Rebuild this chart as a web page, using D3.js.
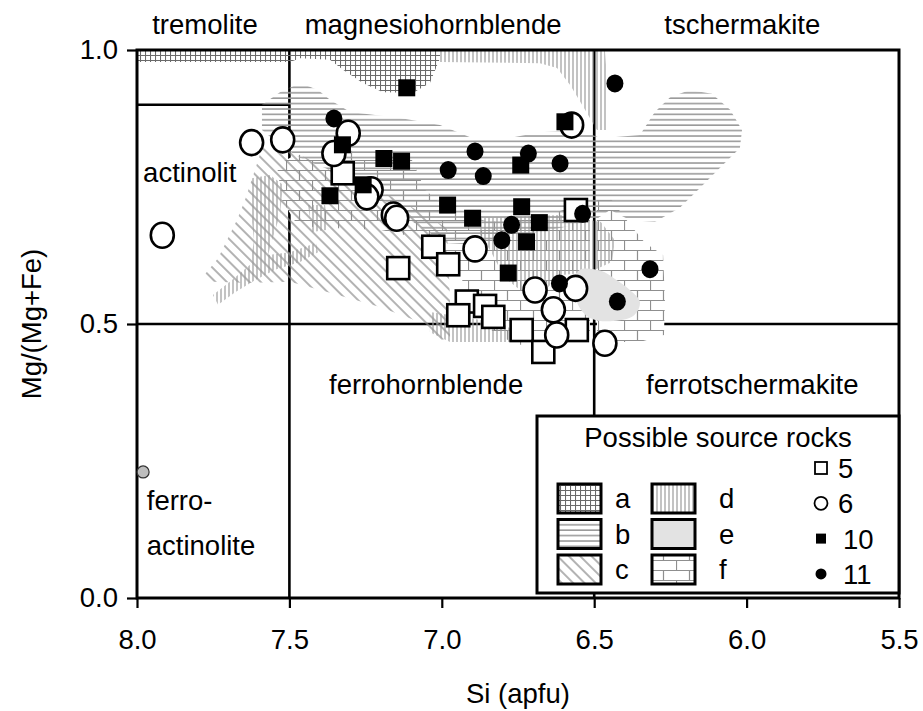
<!DOCTYPE html>
<html><head><meta charset="utf-8">
<script src="https://cdn.jsdelivr.net/npm/d3@7"></script>
<style>body{margin:0;background:#fff} svg text{font-family:"Liberation Sans",Arial,Helvetica,sans-serif;fill:#000}</style>
</head><body><svg id="c" width="923" height="711"></svg>
<script>
// ---------- data ----------
const xTicks = [8.0, 7.5, 7.0, 6.5, 6.0, 5.5];
const yTicks = [0.0, 0.5, 1.0];
const fieldLabels = [
  {t:"tremolite", si:7.95, mg:1.029},
  {t:"magnesiohornblende", si:7.45, mg:1.029},
  {t:"tschermakite", si:6.27, mg:1.029},
  {t:"actinolit", si:7.98, mg:0.76},
  {t:"ferrohornblende", si:7.37, mg:0.373},
  {t:"ferrotschermakite", si:6.33, mg:0.373},
  {t:"ferro-", si:7.968, mg:0.16},
  {t:"actinolite", si:7.968, mg:0.078}
];
// classification boundaries [Si1,Mg1,Si2,Mg2]
const boundaries = [[7.5,0,7.5,1],[6.5,0,6.5,1],[8.0,0.5,5.5,0.5],[8.0,0.9,7.5,0.9]];

// possible source rock fields (Si, Mg#)
const fieldA = [[[8.000,1.000],[7.006,1.000],[7.006,0.985],[7.039,0.940],[7.094,0.922],[7.193,0.923],[7.259,0.940],[7.324,0.964],[7.367,0.982],[7.465,0.985],[7.498,0.978],[8.000,0.978]]];
const fieldB = [[[7.590,0.900],[7.531,0.923],[7.465,0.940],[7.406,0.927],[7.367,0.909],[7.301,0.887],[7.137,0.876],[7.006,0.863],[6.907,0.841],[6.809,0.836],[6.678,0.850],[6.547,0.854],[6.478,0.839],[6.350,0.845],[6.301,0.887],[6.251,0.914],[6.186,0.927],[6.114,0.920],[6.054,0.891],[6.015,0.854],[6.022,0.821],[6.087,0.785],[6.153,0.748],[6.219,0.712],[6.301,0.686],[6.383,0.690],[6.448,0.708],[6.497,0.690],[6.612,0.675],[6.743,0.662],[6.875,0.644],[6.990,0.648],[7.104,0.690],[7.236,0.745],[7.367,0.781],[7.465,0.803],[7.531,0.827],[7.590,0.854]]];
const fieldC = [[[7.590,0.821],[7.498,0.818],[7.367,0.781],[7.137,0.726],[6.983,0.675],[6.973,0.544],[6.973,0.474],[7.006,0.471],[7.088,0.507],[7.203,0.531],[7.367,0.557],[7.498,0.577],[7.629,0.575],[7.751,0.577],[7.777,0.591],[7.734,0.620],[7.672,0.690],[7.646,0.726],[7.613,0.781]]];
const fieldD = [
  [[7.006,1.0],[6.465,1.0],[6.455,0.927],[6.458,0.854],[6.491,0.854],[6.530,0.891],[6.579,0.936],[6.622,0.967],[6.678,0.976],[7.006,0.978]],
  [[7.623,0.766],[7.564,0.772],[7.521,0.754],[7.531,0.699],[7.557,0.653],[7.570,0.626],[7.498,0.631],[7.413,0.648],[7.406,0.631],[7.465,0.613],[7.547,0.599],[7.613,0.580],[7.678,0.558],[7.734,0.535],[7.751,0.553],[7.695,0.577],[7.629,0.608],[7.616,0.653],[7.629,0.717]],
  [[7.439,0.717],[7.383,0.717],[7.373,0.672],[7.426,0.668]],
  [[6.875,0.693],[6.612,0.699],[6.478,0.686],[6.432,0.653],[6.442,0.613],[6.514,0.595],[6.612,0.589],[6.661,0.562],[6.743,0.562],[6.793,0.584],[6.842,0.635],[6.881,0.668]],
  [[7.039,0.522],[6.907,0.511],[6.793,0.498],[6.743,0.480],[6.760,0.467],[6.973,0.467],[7.039,0.485]]
];
const fieldE = [[[6.563,0.575],[6.547,0.599],[6.478,0.597],[6.432,0.582],[6.383,0.562],[6.350,0.540],[6.369,0.516],[6.448,0.505],[6.514,0.511],[6.553,0.535]]];
const fieldF = [
  [[7.541,0.790],[7.482,0.808],[7.301,0.816],[7.104,0.807],[7.055,0.745],[6.973,0.704],[6.842,0.686],[6.678,0.693],[6.514,0.726],[6.514,0.480],[6.612,0.460],[6.743,0.462],[6.825,0.480],[6.907,0.544],[6.957,0.613],[7.039,0.653],[7.203,0.672],[7.367,0.675],[7.472,0.679],[7.524,0.726]],
  [[6.491,0.739],[6.442,0.726],[6.389,0.686],[6.333,0.648],[6.274,0.626],[6.268,0.544],[6.271,0.480],[6.350,0.467],[6.491,0.467]]
];

// sample series (Si apfu, Mg/(Mg+Fe))
const series5 = [[7.325,0.775],[7.028,0.641],[6.979,0.609],[7.143,0.602],[6.560,0.708],[6.918,0.541],[6.858,0.533],[6.946,0.516],[6.831,0.513],[6.738,0.489],[6.557,0.489],[6.667,0.449]];
const series6 = [[7.624,0.831],[7.522,0.836],[7.307,0.848],[7.354,0.811],[7.232,0.745],[7.246,0.732],[7.159,0.699],[7.148,0.693],[7.917,0.662],[6.574,0.863],[6.891,0.637],[6.694,0.562],[6.561,0.565],[6.634,0.526],[6.623,0.480],[6.465,0.465]];
const series10 = [[7.115,0.931],[7.326,0.827],[7.190,0.802],[7.132,0.797],[7.258,0.754],[7.367,0.734],[6.596,0.869],[6.741,0.790],[6.981,0.717],[6.899,0.693],[6.738,0.714],[6.680,0.685],[6.722,0.650],[6.782,0.593]];
const series11 = [[7.354,0.875],[6.432,0.939],[6.891,0.815],[6.979,0.781],[6.864,0.770],[6.716,0.811],[6.612,0.793],[6.538,0.701],[6.771,0.681],[6.803,0.653],[6.317,0.600],[6.424,0.541],[6.614,0.574]];
const seriesGray = [[7.98,0.23]];

const legendTitle = "Possible source rocks";
const legendFields = ["a","b","c","d","e","f"];
const legendSeries = ["5","6","10","11"];

// ---------- drawing ----------
const svg = d3.select("#c");
const x = d3.scaleLinear().domain([8.0,5.5]).range([137,899]);
const y = d3.scaleLinear().domain([0,1]).range([598,50]);
const FS = 27.5;

const defs = svg.append("defs");
function pattern(id,w,h,d,color,sw,transform,bg){
  const p = defs.append("pattern").attr("id",id).attr("patternUnits","userSpaceOnUse")
    .attr("width",w).attr("height",h);
  if(transform) p.attr("patternTransform",transform);
  if(bg) p.append("rect").attr("width",w).attr("height",h).attr("fill",bg);
  p.append("path").attr("d",d).attr("stroke",color).attr("stroke-width",sw).attr("fill","none");
}
pattern("pa",5,5,"M0,0.5H5M0.5,0V5","#6a6a6a",1.1);
pattern("pb",5.4,5.4,"M0,1H5.4","#9a9a9a",1.6);
pattern("pc",8,8,"M1,0V8","#8a8a8a",1.3,"rotate(-45)");
pattern("pd",4,4,"M1,0V4","#9a9a9a",1.2);
pattern("pf",26,20,"M0,0.5H26M0,10.5H26M0.5,0V10M13.5,10V20","#8f8f8f",1.2,null,"#fff");

const pline = d3.line().x(d=>x(d[0])).y(d=>y(d[1])).curve(d3.curveLinearClosed);
const smooth = d3.line().x(d=>x(d[0])).y(d=>y(d[1])).curve(d3.curveCatmullRomClosed);

// boundaries
svg.append("g").selectAll("line").data(boundaries).join("line")
  .attr("x1",d=>x(d[0])).attr("y1",d=>y(d[1])).attr("x2",d=>x(d[2])).attr("y2",d=>y(d[3]))
  .attr("stroke","#000").attr("stroke-width",2.6);

const fields = svg.append("g");
fields.selectAll(".f").data(fieldF).join("path").attr("d",pline).attr("fill","url(#pf)");
fields.selectAll(".c").data(fieldC).join("path").attr("d",pline).attr("fill","url(#pc)");
fields.selectAll(".b").data(fieldB).join("path").attr("d",pline).attr("fill","url(#pb)");
fields.selectAll(".d").data(fieldD).join("path").attr("d",pline).attr("fill","url(#pd)");
fields.selectAll(".a").data(fieldA).join("path").attr("d",pline).attr("fill","url(#pa)");
fields.selectAll(".e").data(fieldE).join("path").attr("d",smooth).attr("fill","#e3e3e3");

// frame
svg.append("rect").attr("x",x(8)).attr("y",y(1)).attr("width",x(5.5)-x(8)).attr("height",y(0)-y(1))
  .attr("fill","none").attr("stroke","#000").attr("stroke-width",3);

// axes
const ax = svg.append("g").attr("transform",`translate(0,${y(0)})`)
  .call(d3.axisBottom(x).tickValues(xTicks).tickSize(10).tickPadding(21).tickFormat(d3.format(".1f")));
const ay = svg.append("g").attr("transform",`translate(${x(8)},0)`)
  .call(d3.axisLeft(y).tickValues(yTicks).tickSize(10).tickPadding(9).tickFormat(d3.format(".1f")));
[ax,ay].forEach(a=>{
  a.select(".domain").remove();
  a.selectAll(".tick line").attr("stroke","#000").attr("stroke-width",2.2);
  a.selectAll(".tick text").attr("font-size",FS).attr("font-family","Liberation Sans, Arial, sans-serif").attr("fill","#000");
});
svg.append("text").attr("x",(x(8)+x(5.5))/2).attr("y",703).attr("text-anchor","middle").attr("font-size",FS).text("Si (apfu)");
svg.append("text").attr("transform",`translate(41,${(y(0)+y(1))/2}) rotate(-90)`).attr("text-anchor","middle").attr("font-size",FS).text("Mg/(Mg+Fe)");

// field labels
svg.append("g").selectAll("text").data(fieldLabels).join("text")
  .attr("x",d=>x(d.si)).attr("y",d=>y(d.mg)).attr("font-size",FS).text(d=>d.t);

// markers
const m = svg.append("g");
m.selectAll(".s5").data(series5).join("rect")
  .attr("x",d=>x(d[0])-11).attr("y",d=>y(d[1])-11).attr("width",22).attr("height",22)
  .attr("fill","#fff").attr("stroke","#000").attr("stroke-width",2.6);
m.selectAll(".s6").data(series6).join("ellipse")
  .attr("cx",d=>x(d[0])).attr("cy",d=>y(d[1])).attr("rx",11.5).attr("ry",12.5)
  .attr("fill","#fff").attr("stroke","#000").attr("stroke-width",2.6);
m.selectAll(".s10").data(series10).join("rect")
  .attr("x",d=>x(d[0])-8.5).attr("y",d=>y(d[1])-8.5).attr("width",17).attr("height",17).attr("fill","#000");
m.selectAll(".s11").data(series11).join("ellipse")
  .attr("cx",d=>x(d[0])).attr("cy",d=>y(d[1])).attr("rx",8.5).attr("ry",9).attr("fill","#000");
m.selectAll(".sg").data(seriesGray).join("circle")
  .attr("cx",d=>x(d[0])).attr("cy",d=>y(d[1])).attr("r",6).attr("fill","#bdbdbd").attr("stroke","#333").attr("stroke-width",1.2);

// legend
const L = svg.append("g");
L.append("rect").attr("x",537).attr("y",416).attr("width",362).attr("height",177)
  .attr("fill","#fff").attr("stroke","#000").attr("stroke-width",3);
L.append("text").attr("x",718).attr("y",447).attr("text-anchor","middle").attr("font-size",FS).text(legendTitle);
const fillOf = {a:"url(#pa)",b:"url(#pb)",c:"url(#pc)",d:"url(#pd)",e:"#e3e3e3",f:"url(#pf)"};
legendFields.forEach((k,i)=>{
  const col = Math.floor(i/3), row = i%3;
  const sx = col===0?558:652, sy = 484+row*35.5;
  L.append("rect").attr("x",sx).attr("y",sy).attr("width",43).attr("height",29)
    .attr("fill",fillOf[k]).attr("stroke","#000").attr("stroke-width",3);
  L.append("text").attr("x",col===0?615:719).attr("y",sy+24).attr("font-size",FS).text(k);
});
legendSeries.forEach((k,i)=>{
  const cy = 468+i*35.3, cx = 821;
  if(i===0) L.append("rect").attr("x",cx-6).attr("y",cy-6).attr("width",12).attr("height",12).attr("fill","#fff").attr("stroke","#000").attr("stroke-width",1.8);
  if(i===1) L.append("circle").attr("cx",cx).attr("cy",cy).attr("r",6.5).attr("fill","#fff").attr("stroke","#000").attr("stroke-width",1.8);
  if(i===2) L.append("rect").attr("x",cx-5).attr("y",cy-5).attr("width",10).attr("height",10).attr("fill","#000");
  if(i===3) L.append("circle").attr("cx",cx).attr("cy",cy).attr("r",5.5).attr("fill","#000");
  L.append("text").attr("x",i<2?838:843).attr("y",cy+10).attr("font-size",FS).text(k);
});
</script></body></html>
